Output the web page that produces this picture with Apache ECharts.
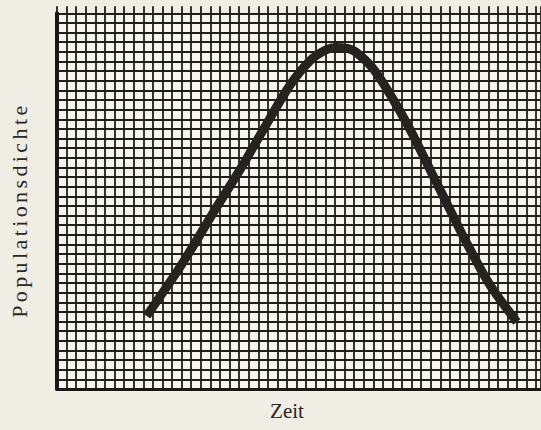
<!DOCTYPE html>
<html><head><meta charset="utf-8">
<script src="https://cdn.jsdelivr.net/npm/echarts@6/dist/echarts.min.js"></script>
<style>
html,body{margin:0;padding:0;background:#efede4;}
#c{width:541px;height:430px;}
#c text[transform*=",-1,1,"]{letter-spacing:3.4px;}
</style>
</head><body><div id="c"></div>
<script>
// Curve (units = grid squares)
const timeValues    = [9.35, 12.98, 16.61, 19.21, 21.81, 24.40, 26.48, 28.04, 29.08, 30.30, 31.15, 32.92, 34.79, 36.86, 38.94, 40.50, 42.58, 45.17, 47.98];
const densityValues = [7.58, 12.88, 18.80, 22.95, 27.41, 31.67, 34.16, 35.20, 35.46, 35.35, 34.99, 33.33, 30.53, 26.90, 22.74, 19.63, 15.47, 10.80, 6.96];
const xName = 'Zeit';
const yName = 'Populationsdichte';
const xMax = 50.5, yMax = 39;

const chart = echarts.init(document.getElementById('c'), null, {renderer: 'svg'});
const gridColor = '#211d1a';
const inkColor = '#1a1716';
chart.setOption({
  animation: false,
  backgroundColor: '#efede4',
  grid: {left: 55, right: 0, top: 13.3, bottom: 41, show: true, backgroundColor: '#f6f5ee', borderWidth: 0},
  xAxis: [{
    type: 'value', min: 0, max: xMax, interval: 1,
    name: xName, nameLocation: 'middle', nameGap: 11,
    nameTextStyle: {fontFamily: 'Liberation Serif', fontSize: 21, color: '#2a2725', padding: [0, 24, 0, 0]},
    axisLine: {show: true, lineStyle: {color: inkColor, width: 3}},
    axisTick: {show: false}, axisLabel: {show: false},
    splitLine: {show: true, lineStyle: {color: gridColor, width: 1.8}}
  }, {
    type: 'value', min: 0, max: xMax, interval: 1, position: 'top',
    axisLine: {show: false},
    axisTick: {show: true, inside: false, length: 7, lineStyle: {color: gridColor, width: 1.8}},
    axisLabel: {show: false}, splitLine: {show: false}
  }],
  yAxis: {
    type: 'value', min: 0, max: yMax, interval: 1,
    name: yName, nameLocation: 'middle', nameGap: 27, nameRotate: 90,
    nameTextStyle: {fontFamily: 'Liberation Serif', fontSize: 22, color: '#2a2725', padding: [0, 18, 0, 0]},
    axisLine: {show: true, lineStyle: {color: inkColor, width: 4}},
    axisTick: {show: false}, axisLabel: {show: false},
    splitLine: {show: true, lineStyle: {color: gridColor, width: 1.8}}
  },
  series: [{
    type: 'line', smooth: 0.3, symbol: 'none',
    data: timeValues.map((t, i) => [t, densityValues[i]]),
    lineStyle: {color: '#262220', width: 9, cap: 'butt'}
  }]
});
</script></body></html>
